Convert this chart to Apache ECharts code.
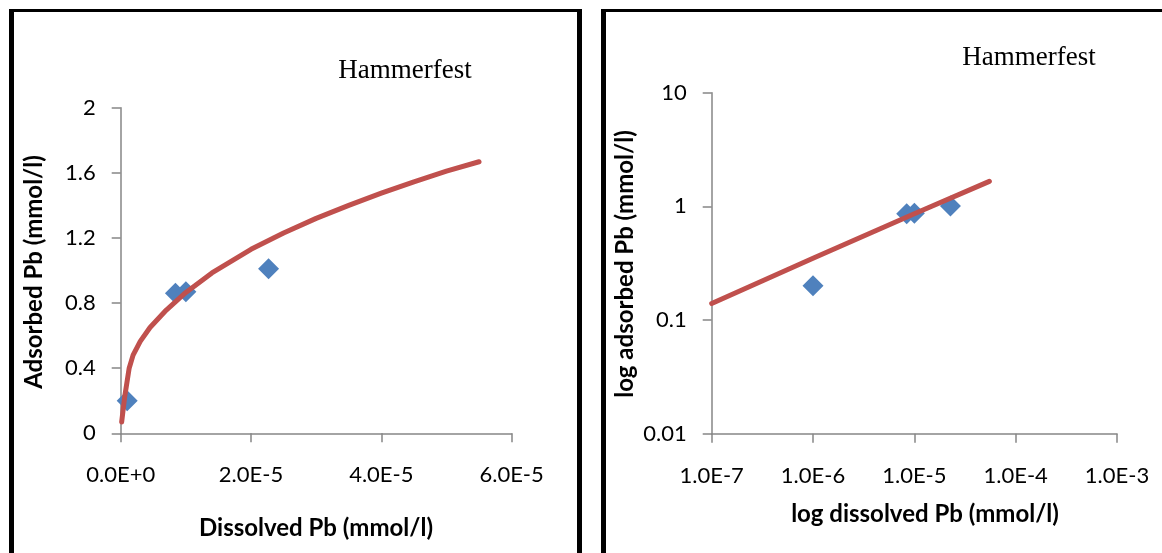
<!DOCTYPE html>
<html>
<head>
<meta charset="utf-8">
<script src="https://cdn.jsdelivr.net/npm/echarts@6/dist/echarts.min.js"></script>
<style>
html,body{margin:0;padding:0;background:#fff;}
#c{width:1162px;height:553px;}
</style>
</head>
<body>
<div id="c"></div>
<script>
// Measured data (both panels show the same samples)
const dissolvedPb = [1.0e-6, 8.4e-6, 1.0e-5, 2.27e-5];
const adsorbedPb  = [0.20, 0.86, 0.87, 1.01];

// Fitted curve read from left (linear) panel
const fitLinX = [1.5e-7, 6e-7, 1.3e-6, 1.9e-6, 3e-6, 4.5e-6, 7e-6, 1.0e-5, 1.4e-5, 2.0e-5, 2.5e-5, 3.0e-5, 3.5e-5, 4.0e-5, 4.5e-5, 5.0e-5, 5.5e-5];
const fitLinY = [0.07, 0.22, 0.40, 0.48, 0.565, 0.65, 0.757, 0.865, 0.985, 1.13, 1.23, 1.32, 1.40, 1.475, 1.545, 1.61, 1.668];

// Fitted line read from right (log-log) panel
const fitLogX = [1e-7, 1e-6, 1e-5, 5.5e-5];
const fitLogY = [0.14, 0.35, 0.86, 1.66];

// Tick labels
const leftXLabels  = ['0.0E+0', '2.0E-5', '4.0E-5', '6.0E-5'];
const leftYLabels  = ['0', '0.4', '0.8', '1.2', '1.6', '2'];
const rightXLabels = ['1.0E-7', '1.0E-6', '1.0E-5', '1.0E-4', '1.0E-3'];
const rightYLabels = ['0.01', '0.1', '1', '10'];

const panelTitle = 'Hammerfest';
const leftXTitle = 'Dissolved Pb (mmol/l)';
const leftYTitle = 'Adsorbed Pb (mmol/l)';
const rightXTitle = 'log dissolved Pb (mmol/l)';
const rightYTitle = 'log adsorbed Pb (mmol/l)';

const pts = dissolvedPb.map((x, i) => [x, adsorbedPb[i]]);
const fitLin = fitLinX.map((x, i) => [x, fitLinY[i]]);
const fitLog = fitLogX.map((x, i) => [x, fitLogY[i]]);

const axisCol = '#868686';
const lab = {color: '#000', fontFamily: 'Lato', fontSize: 22};
const axLine = {show: true, lineStyle: {color: axisCol, width: 1.5}};
const axTick = {show: true, length: 9, lineStyle: {color: axisCol, width: 1.5}};

const chart = echarts.init(document.getElementById('c'), null, {renderer: 'canvas'});
const border = '#000';
const titleFont = 'bold 24px Lato';
const serifFont = '27px "Liberation Serif"';
chart.setOption({
  animation: false,
  backgroundColor: '#fff',
  grid: [
    {left: 120.7, top: 107.7, width: 390.9, height: 325.6},
    {left: 711.7, top: 92.7, width: 405.3, height: 341}
  ],
  xAxis: [
    {gridIndex: 0, type: 'value', min: 0, max: 6e-5, interval: 2e-5,
     axisLine: axLine, axisTick: axTick, splitLine: {show: false},
     axisLabel: Object.assign({margin: 31, formatter: (v) => leftXLabels[Math.round(v / 2e-5)]}, lab)},
    {gridIndex: 1, type: 'log', logBase: 10, min: 1e-7, max: 1e-3,
     axisLine: axLine, axisTick: axTick, splitLine: {show: false},
     axisLabel: Object.assign({margin: 31, formatter: (v) => rightXLabels[Math.round(Math.log10(v)) + 7]}, lab)}
  ],
  yAxis: [
    {gridIndex: 0, type: 'value', min: 0, max: 2, interval: 0.4,
     axisLine: axLine, axisTick: axTick, splitLine: {show: false},
     axisLabel: Object.assign({margin: 25, formatter: (v) => leftYLabels[Math.round(v / 0.4)]}, lab)},
    {gridIndex: 1, type: 'log', logBase: 10, min: 0.01, max: 10,
     axisLine: axLine, axisTick: axTick, splitLine: {show: false},
     axisLabel: Object.assign({margin: 25, formatter: (v) => rightYLabels[Math.round(Math.log10(v)) + 2]}, lab)}
  ],
  series: [
    {type: 'scatter', xAxisIndex: 0, yAxisIndex: 0, data: pts, symbol: 'diamond', symbolSize: 21,
     itemStyle: {color: '#4F81BD', opacity: 1}, z: 2},
    {type: 'line', xAxisIndex: 0, yAxisIndex: 0, data: fitLin, showSymbol: false, smooth: false,
     lineStyle: {color: '#C0504D', width: 5, cap: 'round', join: 'round'}, z: 3},
    {type: 'scatter', xAxisIndex: 1, yAxisIndex: 1, data: pts, symbol: 'diamond', symbolSize: 21,
     itemStyle: {color: '#4F81BD', opacity: 1}, z: 2},
    {type: 'line', xAxisIndex: 1, yAxisIndex: 1, data: fitLog, showSymbol: false,
     lineStyle: {color: '#C0504D', width: 5, cap: 'round', join: 'round'}, z: 3}
  ],
  graphic: [
    {type: 'rect', shape: {x: 9, y: 9, width: 573, height: 3}, style: {fill: border}},
    {type: 'rect', shape: {x: 9, y: 9, width: 5, height: 600}, style: {fill: border}},
    {type: 'rect', shape: {x: 577, y: 9, width: 5, height: 600}, style: {fill: border}},
    {type: 'rect', shape: {x: 601, y: 9, width: 600, height: 3}, style: {fill: border}},
    {type: 'rect', shape: {x: 601, y: 9, width: 5, height: 600}, style: {fill: border}},
    {type: 'text', x: 405, y: 71, style: {text: panelTitle, font: serifFont, fill: '#000', textAlign: 'center', textVerticalAlign: 'middle'}},
    {type: 'text', x: 1029, y: 58, style: {text: panelTitle, font: serifFont, fill: '#000', textAlign: 'center', textVerticalAlign: 'middle'}},
    {type: 'text', x: 316, y: 528, style: {text: leftXTitle, font: titleFont, fill: '#000', textAlign: 'center', textVerticalAlign: 'middle'}},
    {type: 'text', x: 925, y: 514, style: {text: rightXTitle, font: titleFont, fill: '#000', textAlign: 'center', textVerticalAlign: 'middle'}},
    {type: 'text', x: 34, y: 272, rotation: Math.PI / 2, style: {text: leftYTitle, font: titleFont, fill: '#000', textAlign: 'center', textVerticalAlign: 'middle'}},
    {type: 'text', x: 625, y: 264, rotation: Math.PI / 2, style: {text: rightYTitle, font: titleFont, fill: '#000', textAlign: 'center', textVerticalAlign: 'middle'}}
  ]
});
</script>
</body>
</html>
